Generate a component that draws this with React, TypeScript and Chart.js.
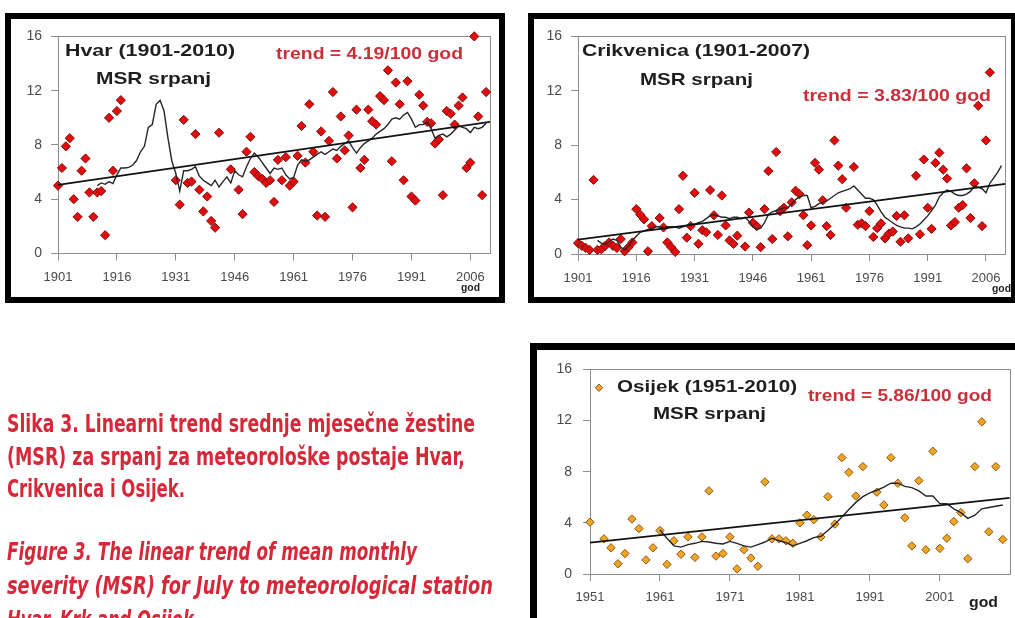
import React, { useEffect, useRef } from "react";
import { Chart, registerables } from "chart.js";
Chart.register(...registerables);

const FONT = "'Liberation Sans', Arial, Helvetica, sans-serif";
const CAPTION_FONT = "'DejaVu Sans Condensed', 'DejaVu Sans', sans-serif";

function yearsFrom(start: number, count: number): number[] {
  return Array.from({ length: count }, (_, i) => start + i);
}

const yTickValues = [0, 4, 8, 12, 16];

// ---------------- Hvar (1901-2010) ----------------
const hvarValues: (number | null)[] = [
  5.0, 6.3, 7.9, 8.5, 4.0, 2.7, 6.1, 7.0, 4.5, 2.7, 4.5, 4.6, 1.35, 10.0, 6.1, 10.5, 11.3,
  null, null, null, null, null, null, null, null, null, null, null, null, null,
  5.4, 3.6, 9.85, 5.2, 5.3, 8.8, 4.7, 3.1, 4.2, 2.4, 1.9, 8.9, null, null, 6.2, null, 4.7, 2.9, 7.5, 8.6,
  6.0, 5.7, 5.5, 5.2, 5.4, 3.8, 6.9, 5.4, 7.1, 5.0,
  5.3, 7.2, 9.4, 6.7, 11.0, 7.5, 2.8, 9.0, 2.7, 8.3,
  11.9, 7.0, 10.1, 7.6, 8.7, 3.4, 10.6, 6.3, 6.9, 10.6,
  9.75, 9.5, 11.6, 11.3, 13.5, 6.8, 12.6, 11.0, 5.4, 12.7,
  4.2, 3.9, 11.7, 10.9, 9.7, 9.6, 8.1, 8.4, 4.3, 10.5,
  10.3, 9.5, 10.9, 11.5, 6.3, 6.7, 16.0, 10.1, 4.3, 11.9,
];
const hvarYears = yearsFrom(1901, hvarValues.length);
const hvarMaValues = [
  5.0, 5.2, 5.1, 5.3, 5.15, 5.8, 6.3, 6.3, 6.35, 6.5,
  6.85, 7.5, 7.9, 9.3, 9.5, 11.0, 11.3, 10.5, 8.5, 6.8,
  5.9, 4.6, 6.1, 6.1, 6.2, 6.4, 5.7, 5.4, 5.2, 5.0,
  5.4, 4.9, 5.3, 5.65, 5.2, 6.1, 5.8, 5.65, 6.4, 7.0,
  7.4, 7.1, 6.7, 6.3, 5.9, 6.3, 6.2, 6.3, 5.8, 5.5,
  5.6, 6.5, 6.9, 6.8, 6.9, 7.1, 7.3, 7.5, 7.3, 7.5,
  7.7, 7.6, 7.9, 8.1, 8.3, 7.8, 7.4, 7.8, 8.1, 8.3,
  8.5, 8.8, 9.0, 9.2, 9.5, 9.9, 10.0, 9.9, 10.2, 10.4,
  9.9, 9.3, 9.5, 9.5, 9.7, 9.2, 8.5, 8.7, 8.8, 8.6,
  8.8, 9.1, 9.4, 9.3, 9.2, 8.9, 9.3, 9.2, 9.3, 9.6,
];
const hvarMaYears = yearsFrom(1911, hvarMaValues.length);
const hvarTrendYears = [1901, 2011];
const hvarTrendValues = [5.05, 9.7];
const hvarTickYears = [1901, 1916, 1931, 1946, 1961, 1976, 1991, 2006];

// ---------------- Crikvenica (1901-2007) ----------------
const crikValues: (number | null)[] = [
  0.8, 0.6, 0.45, 0.3, 5.45, 0.3, 0.35, 0.6, 0.85, 0.6,
  0.45, 1.1, 0.2, 0.5, 0.85, 3.3, 2.9, 2.55, 0.2, 2.05,
  null, 2.65, 1.95, 0.85, 0.5, 0.15, 3.3, 5.75, 1.2, 2.05,
  4.5, 0.75, 1.75, 1.6, 4.7, 2.85, 1.4, 4.3, 2.1, 1.0,
  0.75, 1.35, null, 0.55, 3.05, 2.3, 2.05, 0.5, 3.3, 6.1,
  1.1, 7.5, 3.15, 3.4, 1.3, 3.8, 4.65, 4.4, 2.85, 0.65,
  2.1, 6.7, 6.2, 3.95, 2.05, 1.4, 8.35, 6.5, 5.5, 3.4,
  null, 6.4, 2.15, 2.25, 2.05, 3.15, 1.25, 1.9, 2.25, 1.15,
  1.5, 1.65, 2.8, 0.9, 2.85, 1.15, null, 5.75, 1.45, 6.95,
  3.4, 1.85, 6.7, 7.45, 6.2, 5.55, 2.1, 2.35, 3.4, 3.6,
  6.3, 2.65, 5.2, 10.9, 2.05, 8.35, 13.35,
];
const crikYears = yearsFrom(1901, crikValues.length);
const crikMaValues = [
  1.0, 0.8, 0.7, 0.9, 1.1, 1.0, 0.5, 0.3, 0.6, 1.0,
  1.3, 1.6, 1.7, 1.8, 1.9, 2.0, 2.0, 1.9, 2.0, 2.0,
  2.0, 1.9, 2.0, 2.1, 2.2, 2.2, 2.3, 2.4, 2.6, 2.8,
  2.9, 2.8, 2.7, 2.7, 2.6, 2.7, 2.7, 2.6, 2.7, 2.4,
  2.0, 1.8, 1.9, 2.3, 2.9, 3.1, 3.2, 3.3, 3.4, 3.4,
  3.7, 4.0, 4.2, 4.3, 4.3, 3.4, 3.5, 3.7, 3.8, 3.9,
  4.1, 4.3, 4.5, 4.6, 4.7, 4.8, 5.0, 4.7, 4.4, 4.1,
  4.1, 4.0, 3.6, 3.1, 2.7, 2.5, 2.3, 2.1, 2.0, 1.9,
  1.9, 1.85, 2.0, 2.2, 2.5, 2.8, 3.2, 3.6, 4.2, 4.5,
  4.7, 4.6, 4.4, 4.3, 4.3, 4.4, 4.6, 5.0, 4.9, 4.8,
  4.5, 5.2, 5.6, 6.0, 6.5,
];
const crikMaYears = yearsFrom(1906, crikMaValues.length);
const crikTrendYears = [1901, 2011];
const crikTrendValues = [1.05, 5.15];
const crikTickYears = [1901, 1916, 1931, 1946, 1961, 1976, 1991, 2006];

// ---------------- Osijek (1951-2010) ----------------
const osijekValues: (number | null)[] = [
  4.05, null, 2.75, 2.05, 0.8, 1.6, 4.3, 3.55, 1.1, 2.05,
  3.4, 0.75, 2.6, 1.55, 2.9, 1.3, 2.9, 6.5, 1.4, 1.6,
  2.9, 0.4, 1.9, 1.25, 0.6, 7.2, 2.75, 2.75, 2.6, 2.4,
  4.0, 4.6, 4.25, 2.9, 6.05, 3.9, 9.1, 7.95, 6.1, 8.4,
  null, 6.4, 5.4, 9.1, 7.1, 4.4, 2.2, 7.3, 1.9, 9.6,
  2.0, 2.8, 4.1, 4.8, 1.2, 8.4, 11.9, 3.3, 8.4, 2.7,
];
const osijekYears = yearsFrom(1951, osijekValues.length);
const osijekMaValues = [
  3.45, 2.8, 2.2, 2.1, 2.3, 2.4, 2.55, 2.5, 2.4, 2.35,
  2.55, 2.4, 2.2, 2.1, 2.3, 2.5, 2.8, 2.6, 2.45, 2.2,
  2.4, 2.6, 2.85, 2.95, 3.4, 3.9, 4.45, 5.05, 5.6, 6.05,
  6.35, 6.55, 6.8, 7.1, 7.1, 6.85, 6.75, 6.5, 6.1, 6.1,
  5.5, 5.5, 5.1, 4.8, 4.35, 4.6, 5.1, 5.2, 5.3, 5.4,
];
const osijekMaYears = yearsFrom(1961, osijekMaValues.length);
const osijekTrendYears = [1951, 2011];
const osijekTrendValues = [2.45, 5.95];
const osijekTickYears = [1951, 1961, 1971, 1981, 1991, 2001];

// ---------------- helpers ----------------
type TextItem = { t: string; x: number; y: number; w: number; s: number; c?: string; italic?: boolean };
type Pt = { x: number; y: number };

function toPoints(xs: number[], ys: (number | null)[]): Pt[] {
  const out: Pt[] = [];
  xs.forEach((x, i) => {
    const v = ys[i];
    if (v !== null && v !== undefined) out.push({ x, y: v });
  });
  return out;
}

function drawFit(ctx: CanvasRenderingContext2D, it: TextItem, family: string, weight: string, ox: number, oy: number) {
  ctx.save();
  ctx.font = `${it.italic ? "italic " : ""}${weight} ${it.s}px ${family}`;
  ctx.fillStyle = it.c || "#1e1e1e";
  ctx.textBaseline = "middle";
  ctx.textAlign = "left";
  const m = ctx.measureText(it.t).width;
  ctx.translate(it.x - ox, it.y - oy);
  ctx.scale(it.w / m, 1);
  ctx.fillText(it.t, 0, 0);
  ctx.restore();
}

function drawDiamond(ctx: CanvasRenderingContext2D, x: number, y: number, r: number, fill: string, stroke: string) {
  ctx.save();
  ctx.beginPath();
  ctx.moveTo(x - r, y);
  ctx.lineTo(x, y - r);
  ctx.lineTo(x + r, y);
  ctx.lineTo(x, y + r);
  ctx.closePath();
  ctx.fillStyle = fill;
  ctx.fill();
  ctx.strokeStyle = stroke;
  ctx.lineWidth = 1;
  ctx.stroke();
  ctx.restore();
}

type Spec = {
  canvas: { x: number; y: number; w: number; h: number };
  area: { left: number; top: number; right: number; bottom: number };
  xMin: number;
  xMax: number;
  xTicks: number[];
  yPad: number;
  xPad: number;
  points: Pt[];
  ma: Pt[];
  trend: Pt[];
  fill: string;
  stroke: string;
  radius: number;
  texts: TextItem[];
  legendMarker?: { x: number; y: number };
};

const RED_TEXT = "#c9303a";
const DARK = "#1e1e1e";

const hvarSpec: Spec = {
  canvas: { x: 11, y: 19, w: 488, h: 278 },
  area: { left: 58, top: 32, right: 490, bottom: 253.5 },
  xMin: 1901,
  xMax: 2011,
  xTicks: hvarTickYears,
  yPad: 9,
  xPad: 9,
  points: toPoints(hvarYears, hvarValues),
  ma: toPoints(hvarMaYears, hvarMaValues),
  trend: toPoints(hvarTrendYears, hvarTrendValues),
  fill: "#e30b0b",
  stroke: "#7d1010",
  radius: 4.6,
  texts: [
    { t: "Hvar (1901-2010)", x: 65, y: 51.5, w: 170, s: 17, c: DARK },
    { t: "MSR srpanj", x: 96, y: 79, w: 115, s: 17, c: DARK },
    { t: "trend = 4.19/100 god", x: 276, y: 54.5, w: 187, s: 17, c: RED_TEXT },
    { t: "god", x: 461, y: 288.5, w: 19, s: 10, c: DARK },
  ],
};

const crikSpec: Spec = {
  canvas: { x: 534, y: 19, w: 477, h: 278 },
  area: { left: 578, top: 32.3, right: 1008, bottom: 254 },
  xMin: 1901,
  xMax: 2011,
  xTicks: crikTickYears,
  yPad: 9,
  xPad: 9.5,
  points: toPoints(crikYears, crikValues),
  ma: toPoints(crikMaYears, crikMaValues),
  trend: toPoints(crikTrendYears, crikTrendValues),
  fill: "#e30b0b",
  stroke: "#7d1010",
  radius: 4.6,
  texts: [
    { t: "Crikvenica (1901-2007)", x: 582, y: 51.5, w: 228, s: 17, c: DARK },
    { t: "MSR srpanj", x: 640, y: 80.5, w: 113, s: 17, c: DARK },
    { t: "trend = 3.83/100 god", x: 803, y: 96.5, w: 188, s: 17, c: RED_TEXT },
    { t: "god", x: 992, y: 289.5, w: 19, s: 10, c: DARK },
  ],
};

const osijekSpec: Spec = {
  canvas: { x: 537, y: 350, w: 478, h: 268 },
  area: { left: 590, top: 362, right: 1012, bottom: 574 },
  xMin: 1951,
  xMax: 2011,
  xTicks: osijekTickYears,
  yPad: 11,
  xPad: 9,
  points: toPoints(osijekYears, osijekValues),
  ma: toPoints(osijekMaYears, osijekMaValues),
  trend: toPoints(osijekTrendYears, osijekTrendValues),
  fill: "#f2a422",
  stroke: "#8a5a18",
  radius: 4.2,
  texts: [
    { t: "Osijek (1951-2010)", x: 617, y: 387.5, w: 180, s: 17, c: DARK },
    { t: "MSR srpanj", x: 653, y: 414, w: 113, s: 17, c: DARK },
    { t: "trend = 5.86/100 god", x: 808, y: 396.5, w: 184, s: 17, c: RED_TEXT },
    { t: "god", x: 969, y: 603.5, w: 29, s: 14, c: DARK },
  ],
  legendMarker: { x: 599, y: 387.7 },
};

const AXIS_COLOR = "#8e8e8e";
const LABEL_COLOR = "#4a4a4a";

function ChartCanvas({ spec }: { spec: Spec }) {
  const ref = useRef<HTMLCanvasElement>(null);
  useEffect(() => {
    const c = ref.current;
    if (!c) return;
    const { canvas, area } = spec;
    const padTop = area.top - canvas.y;
    const padRight = canvas.x + canvas.w - area.right;
    const yW = area.left - canvas.x;
    const xH = canvas.y + canvas.h - area.bottom;
    const overlay = {
      id: "overlay",
      beforeDatasetsDraw(chart: any) {
        const { ctx, chartArea: a } = chart;
        ctx.save();
        ctx.strokeStyle = AXIS_COLOR;
        ctx.lineWidth = 1;
        ctx.strokeRect(Math.round(a.left) + 0.5, Math.round(a.top) + 0.5, Math.round(a.right - a.left), Math.round(a.bottom - a.top));
        ctx.restore();
      },
      afterDraw(chart: any) {
        const ctx = chart.ctx as CanvasRenderingContext2D;
        spec.texts.forEach((it) => drawFit(ctx, it, FONT, "bold", canvas.x, canvas.y));
        if (spec.legendMarker) {
          drawDiamond(ctx, spec.legendMarker.x - canvas.x, spec.legendMarker.y - canvas.y, spec.radius - 0.5, spec.fill, spec.stroke);
        }
      },
    };
    const chart = new Chart(c, {
      type: "scatter",
      data: {
        datasets: [
          { type: "line", data: spec.trend, borderColor: "#111111", borderWidth: 1.8, pointRadius: 0, order: 0 } as any,
          { type: "line", data: spec.ma, borderColor: "#262626", borderWidth: 1.4, pointRadius: 0, order: 1 } as any,
          {
            type: "scatter",
            data: spec.points,
            pointStyle: "rectRot",
            pointRadius: spec.radius,
            backgroundColor: spec.fill,
            borderColor: spec.stroke,
            borderWidth: 1,
            order: 2,
            clip: false,
          } as any,
        ],
      },
      options: {
        responsive: false,
        animation: false,
        events: [],
        layout: { padding: { top: padTop, right: padRight, left: 0, bottom: 0 } },
        plugins: { legend: { display: false }, tooltip: { enabled: false }, title: { display: false } },
        scales: {
          x: {
            type: "linear",
            min: spec.xMin,
            max: spec.xMax,
            afterBuildTicks: (s: any) => {
              s.ticks = spec.xTicks.map((v) => ({ value: v }));
            },
            afterFit: (s: any) => {
              s.height = xH;
            },
            ticks: {
              callback: (v: any) => String(v),
              color: LABEL_COLOR,
              font: { family: FONT, size: 13 },
              padding: spec.xPad,
              maxRotation: 0,
              autoSkip: false,
            },
            grid: { display: true, drawOnChartArea: false, drawTicks: true, tickLength: 7, color: AXIS_COLOR },
            border: { display: true, color: AXIS_COLOR },
          },
          y: {
            type: "linear",
            min: 0,
            max: 16,
            afterBuildTicks: (s: any) => {
              s.ticks = yTickValues.map((v) => ({ value: v }));
            },
            afterFit: (s: any) => {
              s.width = yW;
            },
            ticks: {
              callback: (v: any) => String(v),
              color: LABEL_COLOR,
              font: { family: FONT, size: 14 },
              padding: spec.yPad,
            },
            grid: { display: true, drawOnChartArea: false, drawTicks: true, tickLength: 7, color: AXIS_COLOR },
            border: { display: true, color: AXIS_COLOR },
          },
        },
      } as any,
      plugins: [overlay],
    });
    return () => chart.destroy();
  }, [spec]);
  return (
    <canvas
      ref={ref}
      width={spec.canvas.w}
      height={spec.canvas.h}
      style={{ position: "absolute", left: spec.canvas.x, top: spec.canvas.y, width: spec.canvas.w, height: spec.canvas.h }}
    />
  );
}

const CAPTION_RED = "#d62839";
const captionLines: TextItem[] = [
  { t: "Slika 3. Linearni trend srednje mjesečne žestine", x: 7, y: 425, w: 468, s: 25, c: CAPTION_RED },
  { t: "(MSR) za srpanj za meteorološke postaje Hvar,", x: 7, y: 458.5, w: 458, s: 25, c: CAPTION_RED },
  { t: "Crikvenica i Osijek.", x: 7, y: 490, w: 178, s: 25, c: CAPTION_RED },
  { t: "Figure 3. The linear trend of mean monthly", x: 7, y: 553.5, w: 410, s: 25, c: CAPTION_RED, italic: true },
  { t: "severity (MSR) for July to meteorological station", x: 7, y: 587, w: 486, s: 25, c: CAPTION_RED, italic: true },
  { t: "Hvar, Krk and Osijek.", x: 7, y: 621, w: 193, s: 25, c: CAPTION_RED, italic: true },
];

function Caption() {
  const ref = useRef<HTMLCanvasElement>(null);
  const box = { x: 0, y: 395, w: 520, h: 223 };
  useEffect(() => {
    const c = ref.current;
    if (!c) return;
    const ctx = c.getContext("2d");
    if (!ctx) return;
    ctx.clearRect(0, 0, box.w, box.h);
    captionLines.forEach((it) => drawFit(ctx, it, CAPTION_FONT, "bold", box.x, box.y));
  }, []);
  return (
    <canvas
      ref={ref}
      width={box.w}
      height={box.h}
      style={{ position: "absolute", left: box.x, top: box.y, width: box.w, height: box.h }}
    />
  );
}

function Frame({ x, y, w, h, b }: { x: number; y: number; w: number; h: number; b: number }) {
  return (
    <div
      style={{
        position: "absolute",
        left: x,
        top: y,
        width: w,
        height: h,
        boxSizing: "border-box",
        border: `${b}px solid #000`,
        background: "#fff",
      }}
    />
  );
}

export default function App() {
  return (
    <div style={{ position: "fixed", left: 0, top: 0, width: 1015, height: 618, overflow: "hidden", background: "#fff" }}>
      <Frame x={5} y={13} w={500} h={290} b={6} />
      <Frame x={528} y={13} w={489} h={290} b={6} />
      <Frame x={530} y={343} w={495} h={300} b={7} />
      <ChartCanvas spec={hvarSpec} />
      <ChartCanvas spec={crikSpec} />
      <ChartCanvas spec={osijekSpec} />
      <Caption />
    </div>
  );
}
